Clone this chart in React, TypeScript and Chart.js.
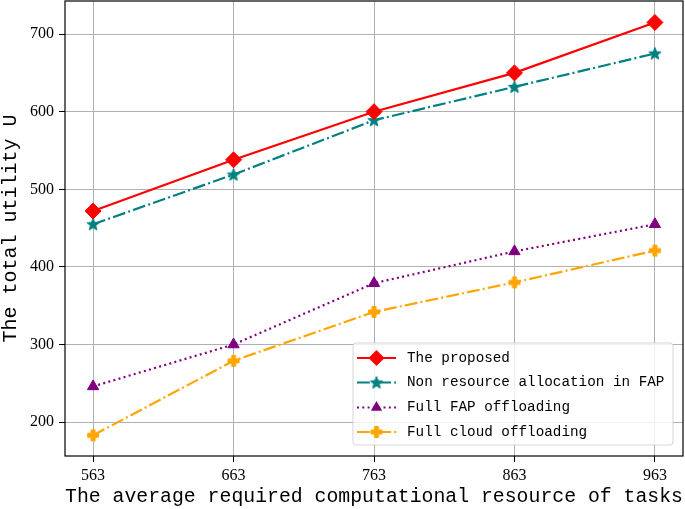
import React, { useEffect, useRef } from 'react';
import { Chart, registerables } from 'chart.js';

Chart.register(...registerables);

const taskResource = [563, 663, 763, 863, 963];
const xTickLabels = ['563', '663', '763', '863', '963'];
const yTickValues = [200, 300, 400, 500, 600, 700];

const proposed = [472, 538, 600, 650, 715];
const nonAllocation = [455, 519, 589, 632, 675];
const fullFap = [246, 300, 379, 420, 455];
const fullCloud = [183, 279, 342, 380, 421];

const seriesNames = [
  'The proposed',
  'Non resource allocation in FAP',
  'Full FAP offloading',
  'Full cloud offloading',
];

const xTitle = 'The average required computational resource of tasks';
const yTitle = 'The total utility U';

function makeStar(color: string, rOuter: number, rInner: number) {
  const size = Math.ceil(2 * rOuter + 3);
  const c = document.createElement('canvas');
  c.width = size;
  c.height = size;
  const ctx = c.getContext('2d')!;
  ctx.translate(size / 2, size / 2 + 0.5);
  ctx.beginPath();
  for (let i = 0; i < 10; i++) {
    const r = i % 2 === 0 ? rOuter : rInner;
    const a = -Math.PI / 2 + (i * Math.PI) / 5;
    ctx.lineTo(r * Math.cos(a), r * Math.sin(a));
  }
  ctx.closePath();
  ctx.fillStyle = color;
  ctx.fill();
  ctx.strokeStyle = color;
  ctx.lineWidth = 1;
  ctx.stroke();
  return c;
}

function makePlus(color: string, half: number, arm: number) {
  const size = Math.ceil(2 * half + 3);
  const c = document.createElement('canvas');
  c.width = size;
  c.height = size;
  const ctx = c.getContext('2d')!;
  ctx.translate(size / 2, size / 2);
  ctx.beginPath();
  ctx.moveTo(-arm, -half);
  ctx.lineTo(arm, -half);
  ctx.lineTo(arm, -arm);
  ctx.lineTo(half, -arm);
  ctx.lineTo(half, arm);
  ctx.lineTo(arm, arm);
  ctx.lineTo(arm, half);
  ctx.lineTo(-arm, half);
  ctx.lineTo(-arm, arm);
  ctx.lineTo(-half, arm);
  ctx.lineTo(-half, -arm);
  ctx.lineTo(-arm, -arm);
  ctx.closePath();
  ctx.fillStyle = color;
  ctx.fill();
  ctx.strokeStyle = color;
  ctx.lineWidth = 1;
  ctx.stroke();
  return c;
}

export default function App() {
  const ref = useRef<HTMLCanvasElement | null>(null);

  useEffect(() => {
    document.body.style.margin = '0';
    const canvas = ref.current;
    if (!canvas) return;

    const star = makeStar('#008080', 6.5, 2.8);
    const plus = makePlus('#FFA500', 5.5, 2);

    const toPoints = (arr: number[]) => arr.map((v, i) => ({ x: taskResource[i], y: v }));

    const datasets: any[] = [
      {
        label: seriesNames[0],
        data: toPoints(proposed),
        borderColor: '#FF0000',
        backgroundColor: '#FF0000',
        borderWidth: 2.2,
        pointStyle: 'rectRot',
        pointRadius: 8,
        pointBorderWidth: 1,
        pointBackgroundColor: '#FF0000',
        pointBorderColor: '#FF0000',
      },
      {
        label: seriesNames[1],
        data: toPoints(nonAllocation),
        borderColor: '#008080',
        backgroundColor: '#008080',
        borderWidth: 2.2,
        borderDash: [12.8, 3.2, 2, 3.2],
        pointStyle: star,
        pointRadius: 6,
      },
      {
        label: seriesNames[2],
        data: toPoints(fullFap),
        borderColor: '#800080',
        backgroundColor: '#800080',
        borderWidth: 2.2,
        borderDash: [2, 3.3],
        pointStyle: 'triangle',
        pointRadius: 6.5,
        pointBorderWidth: 1,
        pointBackgroundColor: '#800080',
        pointBorderColor: '#800080',
      },
      {
        label: seriesNames[3],
        data: toPoints(fullCloud),
        borderColor: '#FFA500',
        backgroundColor: '#FFA500',
        borderWidth: 2.2,
        borderDash: [12.8, 3.2, 2, 3.2],
        pointStyle: plus,
        pointRadius: 6,
      },
    ];

    const legendPlugin = {
      id: 'mplLegend',
      afterDraw(chart: any) {
        const ctx = chart.ctx;
        const area = chart.chartArea;
        ctx.save();
        // spines
        ctx.strokeStyle = '#000';
        ctx.lineWidth = 1.2;
        ctx.strokeRect(area.left, area.top, area.right - area.left, area.bottom - area.top);

        // legend box
        const bx = 353, by = 343, bw = 320, bh = 102, r = 3;
        ctx.beginPath();
        ctx.moveTo(bx + r, by);
        ctx.lineTo(bx + bw - r, by);
        ctx.arcTo(bx + bw, by, bx + bw, by + r, r);
        ctx.lineTo(bx + bw, by + bh - r);
        ctx.arcTo(bx + bw, by + bh, bx + bw - r, by + bh, r);
        ctx.lineTo(bx + r, by + bh);
        ctx.arcTo(bx, by + bh, bx, by + bh - r, r);
        ctx.lineTo(bx, by + r);
        ctx.arcTo(bx, by, bx + r, by, r);
        ctx.closePath();
        ctx.fillStyle = 'rgba(255,255,255,0.8)';
        ctx.fill();
        ctx.strokeStyle = 'rgba(204,204,204,0.8)';
        ctx.lineWidth = 1;
        ctx.stroke();

        const rowsY = [358, 382.5, 407.5, 432];
        chart.data.datasets.forEach((ds: any, i: number) => {
          const y = rowsY[i];
          ctx.save();
          ctx.strokeStyle = ds.borderColor;
          ctx.lineWidth = ds.borderWidth;
          ctx.setLineDash(ds.borderDash || []);
          ctx.beginPath();
          ctx.moveTo(357, y);
          ctx.lineTo(396, y);
          ctx.stroke();
          ctx.setLineDash([]);
          const cx = 376.5;
          if (ds.pointStyle instanceof HTMLCanvasElement) {
            const img = ds.pointStyle;
            ctx.drawImage(img, cx - img.width / 2, y - img.height / 2);
          } else if (ds.pointStyle === 'rectRot') {
            const rr = ds.pointRadius;
            ctx.beginPath();
            ctx.moveTo(cx, y - rr);
            ctx.lineTo(cx + rr, y);
            ctx.lineTo(cx, y + rr);
            ctx.lineTo(cx - rr, y);
            ctx.closePath();
            ctx.fillStyle = ds.pointBackgroundColor;
            ctx.fill();
          } else if (ds.pointStyle === 'triangle') {
            const rr = ds.pointRadius;
            ctx.beginPath();
            ctx.moveTo(cx, y - rr);
            ctx.lineTo(cx + rr * Math.sin((2 * Math.PI) / 3), y - rr * Math.cos((2 * Math.PI) / 3));
            ctx.lineTo(cx + rr * Math.sin((4 * Math.PI) / 3), y - rr * Math.cos((4 * Math.PI) / 3));
            ctx.closePath();
            ctx.fillStyle = ds.pointBackgroundColor;
            ctx.fill();
          }
          ctx.restore();
          ctx.fillStyle = '#000';
          ctx.font = '14.3px "Liberation Mono"';
          ctx.textAlign = 'left';
          ctx.textBaseline = 'middle';
          ctx.fillText(ds.label, 407, y);
        });
        ctx.restore();
      },
    };

    const chart = new Chart(canvas, {
      type: 'line',
      data: { datasets },
      plugins: [legendPlugin],
      options: {
        animation: false,
        responsive: false,
        maintainAspectRatio: false,
        layout: { autoPadding: false, padding: { top: 1, right: 2, left: 0, bottom: 0 } },
        plugins: {
          legend: { display: false },
          tooltip: { enabled: false },
        },
        scales: {
          x: {
            type: 'linear',
            min: 543,
            max: 983,
            afterBuildTicks: (scale: any) => {
              scale.ticks = taskResource.map((v) => ({ value: v }));
            },
            afterFit: (scale: any) => {
              scale.height = 53;
              scale.paddingLeft = 0;
              scale.paddingRight = 0;
            },
            ticks: {
              color: '#000',
              padding: 4,
              maxRotation: 0,
              font: { family: '"Liberation Serif"', size: 16 },
              callback: (v: any) => {
                const idx = taskResource.indexOf(Number(v));
                return idx >= 0 ? xTickLabels[idx] : '';
              },
            },
            grid: {
              color: '#b0b0b0',
              lineWidth: 1,
              tickColor: '#000',
              tickLength: 6,
              tickWidth: 1,
            },
            border: { display: false },
            title: {
              display: true,
              text: xTitle,
              color: '#000',
              font: { family: '"Liberation Mono"', size: 20, lineHeight: 1 },
              padding: { top: 0, bottom: 2 },
            },
          },
          y: {
            type: 'linear',
            min: 156.35,
            max: 742.65,
            afterBuildTicks: (scale: any) => {
              scale.ticks = yTickValues.map((v) => ({ value: v }));
            },
            afterFit: (scale: any) => {
              scale.width = 65;
              scale.paddingTop = 0;
              scale.paddingBottom = 0;
            },
            ticks: {
              color: '#000',
              padding: 5,
              font: { family: '"Liberation Serif"', size: 16 },
              callback: (v: any) => String(v),
            },
            grid: {
              color: '#b0b0b0',
              lineWidth: 1,
              tickColor: '#000',
              tickLength: 6,
              tickWidth: 1,
            },
            border: { display: false },
            title: {
              display: true,
              text: yTitle,
              color: '#000',
              font: { family: '"Liberation Mono"', size: 20, lineHeight: 1 },
              padding: { top: 1, bottom: 0 },
            },
          },
        },
      } as any,
    });

    return () => {
      chart.destroy();
    };
  }, []);

  return (
    <div style={{ width: 685, height: 509 }}>
      <canvas ref={ref} width={685} height={509} style={{ display: 'block', width: 685, height: 509 }} />
    </div>
  );
}
